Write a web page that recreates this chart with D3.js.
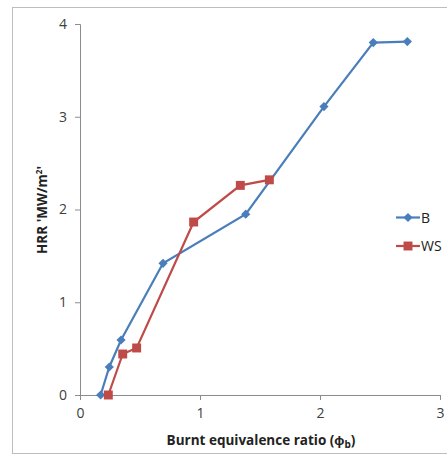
<!DOCTYPE html>
<html><head><meta charset="utf-8">
<script src="https://cdn.jsdelivr.net/npm/d3@7"></script>
<style>body{margin:0;background:#fff}svg{display:block}text{font-family:"Open Sans",sans-serif}</style>
</head><body><svg id="c" width="447" height="455"></svg>
<script>
const seriesNames = ["B", "WS"];
const bX = [0.172, 0.244, 0.342, 0.692, 1.381, 2.033, 2.444, 2.728];
const bY = [0, 0.302, 0.593, 1.42, 1.95, 3.11, 3.80, 3.81];
const wsX = [0.236, 0.356, 0.472, 0.947, 1.336, 1.578];
const wsY = [0, 0.442, 0.507, 1.865, 2.26, 2.32];
const xTicks = [0, 1, 2, 3];
const yTicks = [0, 1, 2, 3, 4];

const svg = d3.select("#c");
svg.append("rect").attr("x",12.5).attr("y",7.5).attr("width",460).attr("height",446)
  .attr("fill","#fff").attr("stroke","#bdbdbd");
const x = d3.scaleLinear().domain([0,3]).range([80,440]);
const y = d3.scaleLinear().domain([0,4]).range([395,24]);
const axCol = "#8c8c8c";

const gx = svg.append("g").attr("transform","translate(0,395)")
  .call(d3.axisBottom(x).tickValues(xTicks).tickSize(5).tickPadding(8).tickFormat(d3.format("d")));
const gy = svg.append("g").attr("transform","translate(80,0)")
  .call(d3.axisLeft(y).tickValues(yTicks).tickSize(5).tickPadding(6).tickFormat(d3.format("d")));
[gx,gy].forEach(g=>{
  g.select(".domain").attr("stroke",axCol);
  g.selectAll(".tick line").attr("stroke",axCol);
  g.selectAll(".tick text").attr("fill","#404040").style("font-size","14px");
});
gy.selectAll(".tick text").attr("dx","-2");

const series = [
  {name:seriesNames[0], xs:bX, ys:bY, color:"#4a7ebb", shape:d3.symbolSquare, size:42, rot:45},
  {name:seriesNames[1], xs:wsX, ys:wsY, color:"#be4b48", shape:d3.symbolSquare, size:80, rot:0}
];
const line = d3.line().x(d=>x(d[0])).y(d=>y(d[1]));
series.forEach(s=>{
  const pts = s.xs.map((v,i)=>[v,s.ys[i]]);
  svg.append("path").datum(pts).attr("d",line).attr("fill","none")
    .attr("stroke",s.color).attr("stroke-width",2.2);
  svg.selectAll(null).data(pts).enter().append("path")
    .attr("d",d3.symbol().type(s.shape).size(s.size))
    .attr("transform",d=>`translate(${x(d[0])},${y(d[1])}) rotate(${s.rot})`)
    .attr("fill",s.color);
});

// legend
series.forEach((s,i)=>{
  const ly = 217.5 + i*28.5;
  const g = svg.append("g");
  g.append("line").attr("x1",396).attr("x2",420).attr("y1",ly).attr("y2",ly)
    .attr("stroke",s.color).attr("stroke-width",2.2);
  g.append("path").attr("d",d3.symbol().type(s.shape).size(s.size))
    .attr("transform",`translate(408,${ly}) rotate(${s.rot})`).attr("fill",s.color);
  g.append("text").attr("x",421).attr("y",ly+5).text(s.name)
    .style("font-size","14px").attr("fill","#222");
});

// axis titles
const xt = svg.append("text").attr("x",261).attr("y",445).attr("text-anchor","middle")
  .style("font-size","13.5px").style("font-weight","bold").attr("fill","#222");
xt.append("tspan").text("Burnt equivalence ratio (ϕ");
xt.append("tspan").text("b").attr("dy",3).style("font-size","10px");
xt.append("tspan").text(")").attr("dy",-3);

const yt = svg.append("text").attr("transform","translate(47,210) rotate(-90)")
  .attr("text-anchor","middle").style("font-size","13.5px").style("font-weight","bold").attr("fill","#222");
yt.append("tspan").text("HRR 'MW/m");
yt.append("tspan").text("2").attr("dy",-5).style("font-size","8px");
yt.append("tspan").text("'").attr("dy",5);
</script></body></html>
